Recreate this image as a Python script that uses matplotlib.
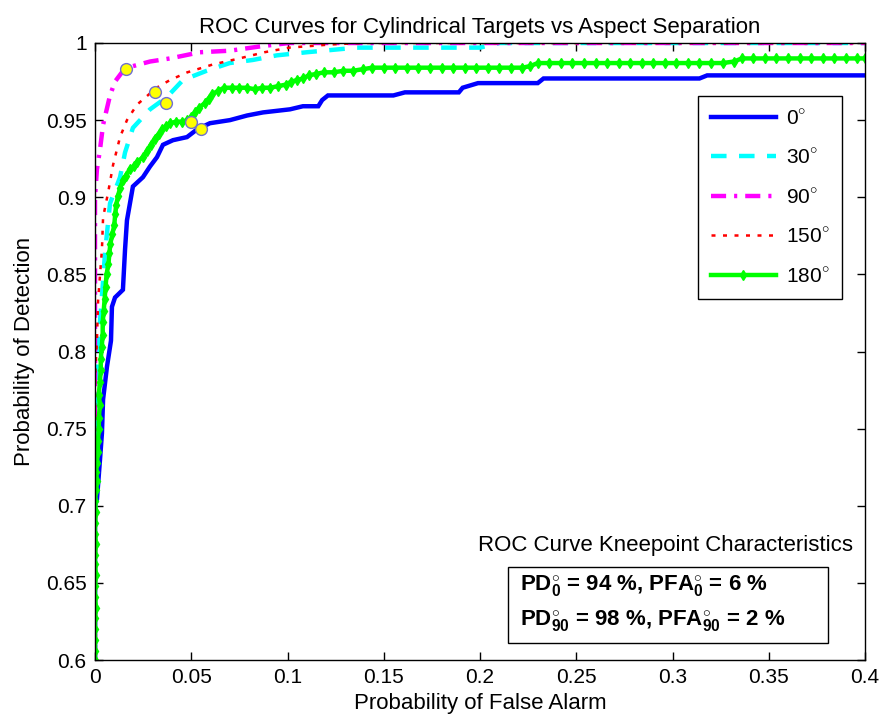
import matplotlib
matplotlib.use("Agg")
import matplotlib.pyplot as plt
from matplotlib.patches import Rectangle

plt.rcParams['font.family'] = ['Liberation Sans', 'DejaVu Sans']
plt.rcParams['mathtext.fontset'] = 'custom'
plt.rcParams['mathtext.rm'] = 'Liberation Sans'
plt.rcParams['mathtext.bf'] = 'Liberation Sans:bold'

# ---------------- data ----------------
labels = ["0$^{\\circ}$", "30$^{\\circ}$", "90$^{\\circ}$", "150$^{\\circ}$", "180$^{\\circ}$"]

pfa_0 = [0, 0.0, 0.001, 0.0026, 0.0036, 0.0042, 0.0062, 0.0083, 0.0088, 0.0104, 0.0145, 0.0156,
         0.0166, 0.0197, 0.0249, 0.0286, 0.0322, 0.0353, 0.0405, 0.0478, 0.0530, 0.0597, 0.0701,
         0.0790, 0.0873, 0.1013, 0.108, 0.116, 0.118, 0.121, 0.155, 0.161, 0.189, 0.191, 0.199,
         0.230, 0.233, 0.314, 0.318, 0.4]
pd_0 = [0.6, 0.70, 0.704, 0.730, 0.747, 0.769, 0.790, 0.807, 0.829, 0.835, 0.840, 0.866,
        0.885, 0.907, 0.913, 0.920, 0.926, 0.934, 0.937, 0.939, 0.944, 0.948, 0.950,
        0.953, 0.955, 0.957, 0.959, 0.959, 0.963, 0.966, 0.966, 0.968, 0.968, 0.971, 0.974,
        0.974, 0.977, 0.977, 0.979, 0.979]

pfa_30 = [0, 0, 0.001, 0.0042, 0.0052, 0.0078, 0.013, 0.0156, 0.0197, 0.0286, 0.0374, 0.0457,
          0.058, 0.070, 0.082, 0.0945, 0.110, 0.136, 0.200, 0.210, 0.4]
pd_30 = [0.6, 0.75, 0.793, 0.846, 0.864, 0.896, 0.913, 0.929, 0.945, 0.957, 0.965, 0.976,
         0.982, 0.987, 0.989, 0.992, 0.994, 0.997, 0.997, 1.0, 1.0]

pfa_90 = [0, 0, 0.001, 0.0026, 0.0042, 0.0078, 0.0104, 0.014, 0.0197, 0.0286, 0.039, 0.0545,
          0.070, 0.087, 0.101, 0.4]
pd_90 = [0.6, 0.90, 0.918, 0.931, 0.947, 0.966, 0.975, 0.981, 0.985, 0.988, 0.990, 0.994,
         0.995, 0.998, 1.0, 1.0]

pfa_150 = [0, 0, 0.001, 0.0016, 0.0036, 0.0042, 0.0068, 0.0094, 0.013, 0.0166, 0.0218, 0.032,
           0.039, 0.048, 0.061, 0.075, 0.088, 0.101, 0.122, 0.138, 0.4]
pd_150 = [0.6, 0.782, 0.807, 0.833, 0.866, 0.887, 0.903, 0.921, 0.939, 0.950, 0.960, 0.971,
          0.976, 0.981, 0.986, 0.990, 0.994, 0.997, 0.999, 1.0, 1.0]

pfa_180 = [0, 0, 0, 0, 0, 0.0005, 0, 0, 0.0005, 0, 0, 0.0005, 0, 0, 0.0005, 0, 0.0005, 0.001,
           0.0005, 0.001, 0.0015, 0.0015, 0.002, 0.002, 0.0025, 0.002, 0.0025, 0.003, 0.003,
           0.0035, 0.004, 0.004, 0.0045, 0.005, 0.0055, 0.006, 0.007, 0.0075, 0.008, 0.009,
           0.010, 0.0105, 0.011, 0.012, 0.013, 0.0145, 0.016, 0.018, 0.020, 0.022, 0.025, 0.027,
           0.029, 0.031, 0.033, 0.035, 0.037, 0.039, 0.042, 0.045, 0.048, 0.050, 0.052, 0.054,
           0.057, 0.059, 0.061, 0.064, 0.067, 0.071, 0.075, 0.079, 0.083, 0.087, 0.091, 0.095,
           0.099, 0.102, 0.105, 0.108, 0.111, 0.115, 0.119, 0.124, 0.129, 0.134, 0.139, 0.144,
           0.150, 0.156, 0.162, 0.168, 0.174, 0.180, 0.186, 0.192, 0.198, 0.204, 0.210, 0.216,
           0.222, 0.226, 0.230, 0.236, 0.242, 0.248, 0.254, 0.260, 0.266, 0.272, 0.278, 0.284,
           0.290, 0.296, 0.302, 0.308, 0.314, 0.320, 0.326, 0.332, 0.336, 0.342, 0.348, 0.354,
           0.360, 0.366, 0.372, 0.378, 0.384, 0.390, 0.396, 0.400]
pd_180 = [0.600, 0.606, 0.613, 0.620, 0.627, 0.634, 0.641, 0.648, 0.655, 0.662, 0.668, 0.675,
          0.682, 0.689, 0.696, 0.703, 0.710, 0.716, 0.722, 0.728, 0.735, 0.742, 0.750, 0.757,
          0.765, 0.772, 0.780, 0.788, 0.795, 0.803, 0.811, 0.819, 0.826, 0.834, 0.842, 0.850,
          0.857, 0.864, 0.870, 0.876, 0.882, 0.889, 0.895, 0.901, 0.906, 0.911, 0.914, 0.918,
          0.920, 0.923, 0.926, 0.930, 0.934, 0.938, 0.941, 0.944, 0.946, 0.948, 0.949, 0.949,
          0.950, 0.952, 0.955, 0.958, 0.961, 0.964, 0.967, 0.969, 0.971, 0.971, 0.971, 0.971,
          0.970, 0.971, 0.971, 0.972, 0.973, 0.975, 0.976, 0.977, 0.979, 0.980, 0.981, 0.981,
          0.982, 0.982, 0.983, 0.984, 0.984, 0.984, 0.984, 0.984, 0.984, 0.984, 0.984, 0.984,
          0.984, 0.984, 0.984, 0.984, 0.984, 0.985, 0.987, 0.987, 0.987, 0.987, 0.987, 0.987,
          0.987, 0.987, 0.987, 0.987, 0.987, 0.987, 0.987, 0.987, 0.987, 0.987, 0.987, 0.988,
          0.990, 0.990, 0.990, 0.990, 0.990, 0.990, 0.990, 0.990, 0.990, 0.990, 0.990, 0.990]

knee_pfa = [0.016, 0.031, 0.037, 0.050, 0.055]
knee_pd = [0.983, 0.968, 0.961, 0.949, 0.944]

xticks = [0, 0.05, 0.1, 0.15, 0.2, 0.25, 0.3, 0.35, 0.4]
xticklabels = ["0", "0.05", "0.1", "0.15", "0.2", "0.25", "0.3", "0.35", "0.4"]
yticks = [0.6, 0.65, 0.7, 0.75, 0.8, 0.85, 0.9, 0.95, 1.0]
yticklabels = ["0.6", "0.65", "0.7", "0.75", "0.8", "0.85", "0.9", "0.95", "1"]

# ---------------- figure ----------------
W, H = 882, 720
fig = plt.figure(figsize=(W / 100, H / 100), dpi=100)
ax = fig.add_axes([95 / W, 1 - 660 / H, 770 / W, 617 / H])


def ax_x(px):
    return (px - 95) / 770


def ax_y(py):
    return 1 - (py - 43) / 617


ax.plot(pfa_0, pd_0, color='#0000ff', lw=3.2, solid_joinstyle='miter', label=labels[0])
ax.plot(pfa_30, pd_30, color='#00ffff', lw=3.2, linestyle=(0, (3.5, 2.8)), label=labels[1])
ax.plot(pfa_90, pd_90, color='#ff00ff', lw=3.2, linestyle=(0, (3.4, 1.8, 0.7, 1.8)), label=labels[2])
ax.plot(pfa_150, pd_150, color='#ff0000', lw=1.8, linestyle=(0, (1.6, 3.0)), label=labels[3])
ax.plot(pfa_180, pd_180, color='#00ff00', lw=3.2, marker='d', markersize=5.5,
        markeredgecolor='#00ff00', label=labels[4])

ax.plot(knee_pfa, knee_pd, linestyle='none', marker='o', markersize=8.5,
        markerfacecolor='#ffff00', markeredgecolor='#7070d0', markeredgewidth=1.0, zorder=5)

ax.set_xlim(0, 0.4)
ax.set_ylim(0.6, 1.0)
ax.set_xticks(xticks)
ax.set_xticklabels(xticklabels)
ax.set_yticks(yticks)
ax.set_yticklabels(yticklabels)
ax.tick_params(direction='in', length=6, width=1, top=True, right=True, labelsize=15, pad=6)
for s in ax.spines.values():
    s.set_linewidth(1.0)

ax.set_xlabel("Probability of False Alarm", fontsize=16, labelpad=4)
ax.set_ylabel("Probability of Detection", fontsize=16, labelpad=8)
ax.set_title("ROC Curves for Cylindrical Targets vs Aspect Separation", fontsize=16, pad=7)

leg = ax.legend(loc='upper right', bbox_to_anchor=(ax_x(842), ax_y(96)),
                borderaxespad=0, fontsize=15, handlelength=3.1, labelspacing=0.95,
                borderpad=0.6, handletextpad=0.5, fancybox=False, framealpha=1,
                edgecolor='black')
leg.get_frame().set_linewidth(1.0)

ax.text(ax_x(665), ax_y(546), "ROC Curve Kneepoint Characteristics",
        transform=ax.transAxes, ha='center', va='center', fontsize=16)

box = Rectangle((ax_x(508), ax_y(643)), ax_x(828) - ax_x(508), ax_y(567) - ax_y(643),
                transform=ax.transAxes, facecolor='white', edgecolor='black', linewidth=1.0,
                zorder=6)
ax.add_patch(box)
ax.text(ax_x(520), ax_y(586),
        "PD$_{\\mathbf{0}}^{\\circ}$ = 94 %, PFA$_{\\mathbf{0}}^{\\circ}$ = 6 %",
        transform=ax.transAxes, ha='left', va='center', fontsize=16, fontweight='bold', zorder=7)
ax.text(ax_x(520), ax_y(621),
        "PD$_{\\mathbf{90}}^{\\circ}$ = 98 %, PFA$_{\\mathbf{90}}^{\\circ}$ = 2 %",
        transform=ax.transAxes, ha='left', va='center', fontsize=16, fontweight='bold', zorder=7)

fig.savefig("out.png", dpi=100)
